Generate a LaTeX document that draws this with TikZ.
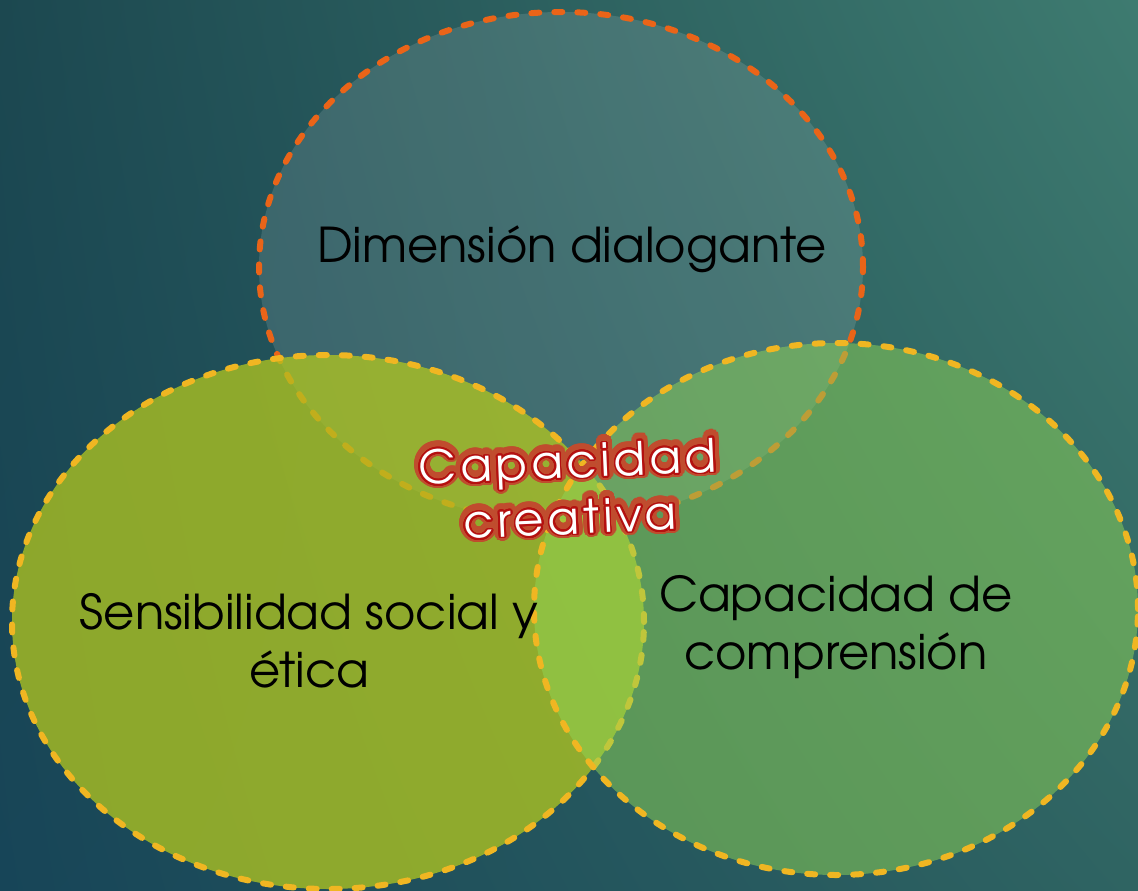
\documentclass[tikz,border=0pt]{standalone}
\usepackage{fontspec}
\setmainfont{texgyreadventor}[Extension=.otf, UprightFont=*-regular, BoldFont=*-bold, ItalicFont=*-italic, BoldItalicFont=*-bolditalic]
\usepackage{contour}
\usetikzlibrary{shapes.geometric,shadings}
\definecolor{bgTL}{RGB}{28,72,80}
\definecolor{bgTR}{RGB}{62,123,112}
\definecolor{bgBL}{RGB}{23,69,88}
\definecolor{bgBR}{RGB}{47,100,98}
\definecolor{dashorange}{RGB}{234,100,24}
\definecolor{dashyellow}{RGB}{240,182,34}
\definecolor{olivefill}{RGB}{180,200,30}
\definecolor{greenfill}{RGB}{145,214,85}
\definecolor{outlinered}{RGB}{180,16,16}
\definecolor{glowred}{RGB}{192,76,46}
\tikzset{
  venn/.style={ellipse, inner sep=0pt, line width=6pt, dash pattern=on 8pt off 15pt, line cap=round},
  topset/.style={venn, draw=dashorange, fill=white, fill opacity=0.12},
  leftset/.style={venn, draw=dashyellow, fill=olivefill, fill opacity=0.75},
  rightset/.style={venn, draw=dashyellow, fill=greenfill, fill opacity=0.5},
  lab/.style={text=black, align=center, font=\fontsize{48}{58}\selectfont, inner sep=0pt},
  crea/.style={align=center, font=\fontsize{46}{56}\selectfont\addfontfeature{LetterSpace=9}, inner sep=0pt, rotate=2.5},
}
\begin{document}
\begin{tikzpicture}[x=1pt, y=-1pt]
\useasboundingbox (0,0) rectangle (1138,891);
\shade[upper left=bgTL, upper right=bgTR, lower left=bgBL, lower right=bgBR] (0,0) rectangle (1138,891);
\node[topset, minimum width=604pt, minimum height=510pt] (top) at (561,267) {};
\node[leftset, minimum width=632pt, minimum height=534pt] (left) at (328,622) {};
\node[rightset, minimum width=604pt, minimum height=532pt] (right) at (836,609) {};
\node[lab, anchor=base] (ttop) at (572,262) {Dimensión dialogante};
\node[lab] (tleft) at (309,641) {Sensibilidad social y\\ética};
\node[lab] (tright) at (836,627) {Capacidad de\\comprensión};
\node[crea, text=glowred] (glow) at (569,490) {\contourlength{6pt}\contournumber{40}\contour{glowred}{Capacidad}\\\contourlength{6pt}\contournumber{40}\contour{glowred}{creativa}};
\node[crea, text=white] (crea) at (glow.center) {\contourlength{1.7pt}\contournumber{28}\contour{outlinered}{Capacidad}\\\contourlength{1.7pt}\contournumber{28}\contour{outlinered}{creativa}};
\end{tikzpicture}
\end{document}
